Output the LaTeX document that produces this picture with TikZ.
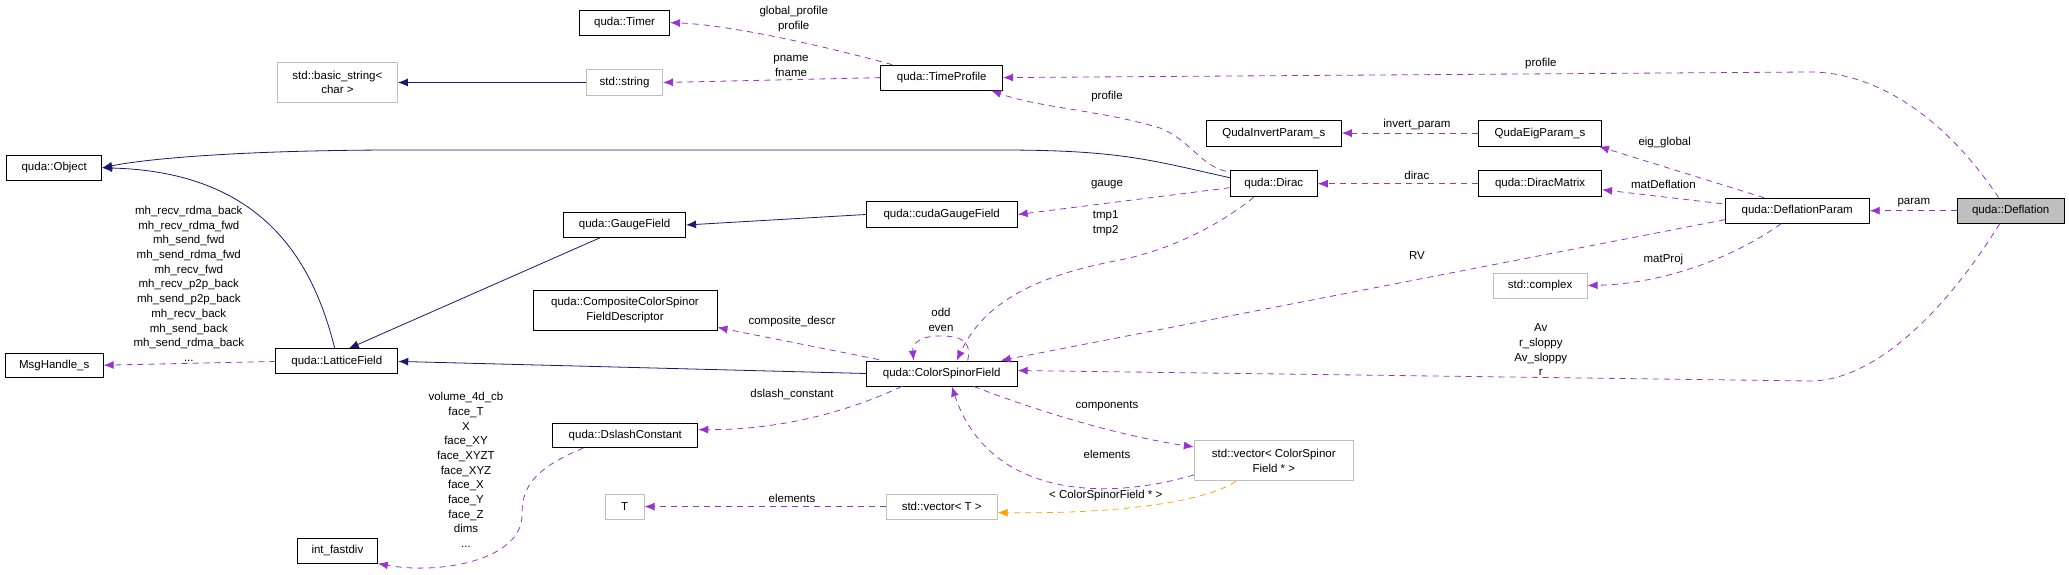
\documentclass[tikz,border=0pt]{standalone}
\usepackage{fontspec}
\setmainfont{Liberation Sans}
\usetikzlibrary{arrows.meta}
\definecolor{dpurple}{HTML}{9A32CD}
\definecolor{dnavy}{HTML}{191970}
\definecolor{dorange}{HTML}{FFA500}
\definecolor{dgrey}{HTML}{BFBFBF}
\begin{document}
\begin{tikzpicture}[x=1pt,y=-1pt,
  every node/.style={font=\fontsize{11.5}{14.7}\selectfont, inner sep=1pt, align=center},
  box/.style={draw=black, line width=0.9pt, rectangle, inner sep=0pt},
  gbox/.style={draw=dgrey, line width=0.9pt, rectangle, inner sep=0pt},
  use/.style={draw=dpurple, dash pattern=on 6pt off 5pt, line width=0.8pt, -{Latex[length=10pt,width=8pt]}},
  inh/.style={draw=dnavy, line width=0.8pt, -{Latex[length=10pt,width=8pt]}},
  tmpl/.style={draw=dorange, dash pattern=on 6pt off 5pt, line width=0.8pt, -{Latex[length=10pt,width=8pt]}},
  lbl/.style={}]
\useasboundingbox (0,0) rectangle (2069,575);
\newcommand{\mybox}[6]{\node[#1, minimum width=#4pt, minimum height=#5pt] (#2) at (#3) {#6};}
\mybox{box}{timer}{624.6,22.6}{90}{25}{quda::Timer}
\mybox{gbox}{bstr}{337.4,82.5}{120}{40}{std::basic\_string<\\char >}
\mybox{gbox}{str}{624.6,82.5}{76}{26}{std::string}
\mybox{box}{obj}{54.2,167.8}{95}{25}{quda::Object}
\mybox{box}{gauge}{624.6,225}{122}{25}{quda::GaugeField}
\mybox{box}{comp}{625,310}{184}{40}{quda::CompositeColorSpinor\\FieldDescriptor}
\mybox{box}{msg}{54.2,365.2}{98}{24}{MsgHandle\_s}
\mybox{box}{lat}{336.8,361.4}{122}{25}{quda::LatticeField}
\mybox{box}{dsl}{625.3,435.6}{145}{24}{quda::DslashConstant}
\mybox{gbox}{T}{624.6,506.6}{39}{25}{T}
\mybox{box}{fdiv}{337.4,550.6}{80}{25}{int\_fastdiv}
\mybox{box}{tp}{941.7,77.6}{122}{25}{quda::TimeProfile}
\mybox{box}{qip}{1273.8,133.1}{135}{26}{QudaInvertParam\_s}
\mybox{box}{dirac}{1273.8,183.7}{87}{26}{quda::Dirac}
\mybox{box}{cgauge}{941.7,214.5}{151}{26}{quda::cudaGaugeField}
\mybox{box}{csf}{941.7,373.5}{151}{25}{quda::ColorSpinorField}
\mybox{gbox}{vcsf}{1273.8,460.9}{159}{40}{std::vector< ColorSpinor\\Field * >}
\mybox{gbox}{vT}{941.7,506.6}{111}{25}{std::vector< T >}
\mybox{box}{qep}{1540.1,133.1}{123}{26}{QudaEigParam\_s}
\mybox{box}{dm}{1540.1,183.7}{123}{26}{quda::DiracMatrix}
\mybox{box}{dp}{1797.2,210.7}{144}{25}{quda::DeflationParam}
\node[box, fill=dgrey, minimum width=107pt, minimum height=25pt] (defl) at (2010.7,210.7) {quda::Deflation};
\mybox{gbox}{cplx}{1540.1,285.5}{94}{25}{std::complex}
% edges (note: xshift/yshift are canvas shifts, positive yshift = up)
\draw[use] ([xshift=12pt]tp.north west) .. controls (820,45) and (730,25) .. (timer.east);
\node[lbl] at (793.7,18.7) {global\_profile\\profile};
\draw[use] (tp.west) -- (str.east);
\node[lbl] at (791,66) {pname\\fname};
\draw[inh] (str.west) -- (bstr.east);
\draw[inh] ([yshift=6pt]dirac.west) .. controls (1150,160) and (1120,150) .. (1000,150) -- (400,150) .. controls (250,150) and (150,158) .. (obj.east);
\draw[inh] ([xshift=-2pt]lat.north) .. controls (315,270) and (270,172) .. (obj.east);
\draw[inh] ([xshift=-25pt]gauge.south) -- ([xshift=12pt]lat.north);
\draw[inh] (cgauge.west) -- (gauge.east);
\draw[inh] (csf.west) -- (lat.east);
\draw[use] (lat.west) -- (msg.east);
\node[lbl] at (188.8,283.8) {mh\_recv\_rdma\_back\\mh\_recv\_rdma\_fwd\\mh\_send\_fwd\\mh\_send\_rdma\_fwd\\mh\_recv\_fwd\\mh\_recv\_p2p\_back\\mh\_send\_p2p\_back\\mh\_recv\_back\\mh\_send\_back\\mh\_send\_rdma\_back\\...};
\draw[use] ([xshift=-4pt,yshift=-1pt]dirac.north west) .. controls (1200,165) and (1190,140) .. (1160,128) .. controls (1100,110) and (1040,108) .. ([xshift=-12pt]tp.south east);
\node[lbl] at (1107,96.8) {profile};
\draw[use] ([yshift=-4pt]dirac.west) -- (cgauge.east);
\node[lbl] at (1107,184.8) {gauge};
\draw[use] ([xshift=-20pt]dirac.south) .. controls (1220,225) and (1170,250) .. (1120,260) .. controls (1040,275) and (985,300) .. ([xshift=15pt]csf.north);
\node[lbl] at (1105.7,223.3) {tmp1\\tmp2};
\draw[use] ([xshift=26pt]csf.north) .. controls (972,340) and (960,336) .. (940,336) .. controls (918,336) and (912,345) .. ([xshift=-28pt]csf.north);
\node[lbl] at (941,320) {odd\\even};
\draw[use] ([xshift=13pt,yshift=1pt]csf.north west) -- ([yshift=3pt]comp.south east);
\node[lbl] at (792,322) {composite\_descr};
\draw[use] ([xshift=36pt]csf.south west) .. controls (830,420) and (760,430) .. ([yshift=6pt]dsl.east);
\node[lbl] at (792,394) {dslash\_constant};
\draw[use] ([xshift=32pt]csf.south) .. controls (1040,412) and (1120,436) .. ([yshift=14pt]vcsf.west);
\node[lbl] at (1107,406) {components};
\draw[use] ([yshift=-14pt]vcsf.west) .. controls (1110,500) and (990,500) .. ([xshift=10pt]csf.south);
\node[lbl] at (1107,454) {elements};
\draw[use] (vT.west) -- (T.east);
\node[lbl] at (792,498) {elements};
\draw[tmpl] ([xshift=-38pt]vcsf.south) .. controls (1200,505) and (1100,514) .. ([yshift=-6pt]vT.east);
\node[lbl] at (1105.7,496) {< ColorSpinorField * >};
\draw[use] ([xshift=-42pt]dsl.south) .. controls (530,470) and (522,490) .. (522,515) .. controls (522,560) and (440,575) .. (fdiv.south east);
\node[lbl] at (466,470) {volume\_4d\_cb\\face\_T\\X\\face\_XY\\face\_XYZT\\face\_XYZ\\face\_X\\face\_Y\\face\_Z\\dims\\...};
\draw[use] (dm.west) -- (dirac.east);
\node[lbl] at (1416.9,174.9) {dirac};
\draw[use] (qep.west) -- (qip.east);
\node[lbl] at (1416.9,124.3) {invert\_param};
\draw[use] ([xshift=-33pt]dp.north) -- ([xshift=-3pt]qep.south east);
\node[lbl] at (1664.7,143) {eig\_global};
\draw[use] ([xshift=-3pt,yshift=7pt]dp.west) -- ([yshift=-6pt]dm.east);
\node[lbl] at (1663.4,184.8) {matDeflation};
\draw[use] ([yshift=-9pt]dp.west) -- ([xshift=-17pt]csf.north east);
\node[lbl] at (1416.9,255.2) {RV};
\draw[use] ([xshift=-16pt]dp.south) .. controls (1730,260) and (1660,284) .. (cplx.east);
\node[lbl] at (1663.4,259.6) {matProj};
\draw[use] (defl.west) -- (dp.east);
\node[lbl] at (1913.8,202.4) {param};
\draw[use] ([xshift=-12pt]defl.north) .. controls (1940,110) and (1870,72) .. (1810,72) -- (tp.east);
\node[lbl] at (1540.8,63.8) {profile};
\draw[use] ([xshift=-11pt]defl.south) .. controls (1940,320) and (1870,381) .. (1810,381) -- ([yshift=3pt]csf.east);
\node[lbl] at (1540.8,349.8) {Av\\r\_sloppy\\Av\_sloppy\\r};
\end{tikzpicture}
\end{document}
